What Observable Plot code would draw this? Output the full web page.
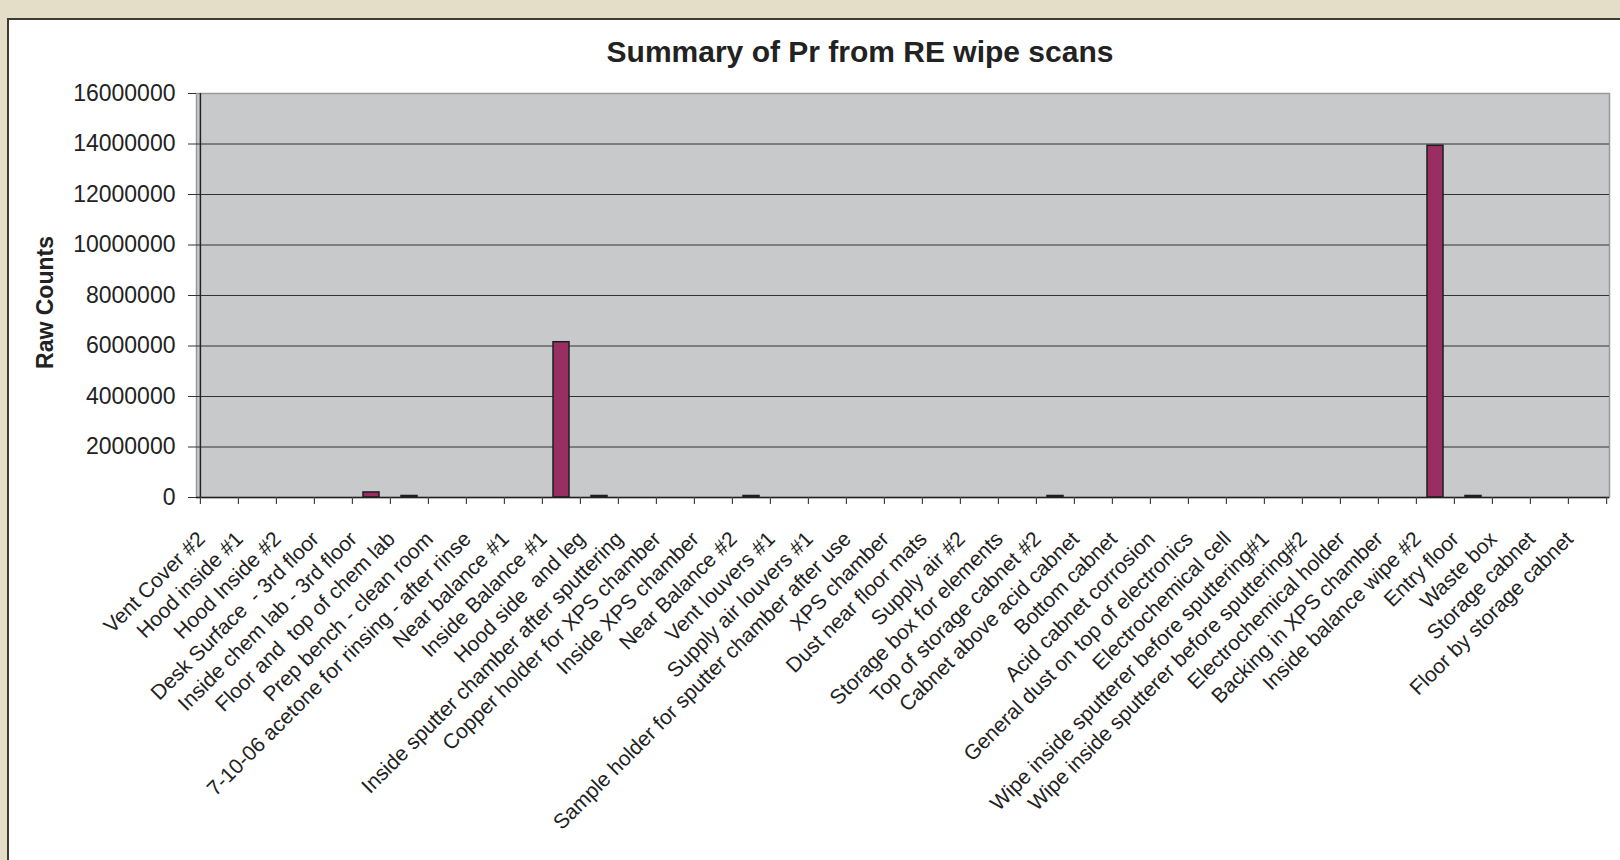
<!DOCTYPE html>
<html><head><meta charset="utf-8">
<script src="https://cdn.jsdelivr.net/npm/d3@7"></script>
<script src="https://cdn.jsdelivr.net/npm/@observablehq/plot@0.6"></script>
<style>
html,body{margin:0;padding:0;width:1620px;height:860px;overflow:hidden;background:#e4dec9;font-family:"Liberation Sans",Arial,sans-serif;}
#panel{position:absolute;left:7px;top:18px;right:0;bottom:0;background:#fff;border-left:2px solid #3f3b33;border-top:2px solid #3f3b33;}
#title{position:absolute;left:0;top:35px;width:1720px;text-align:center;font-weight:bold;font-size:30px;line-height:34px;color:#222;}
#chart{position:absolute;left:0;top:0;}
</style></head><body>
<div id="panel"></div>
<div id="title">Summary of Pr from RE wipe scans</div>
<div id="chart"></div>
<script>
const categories = [
  "Vent Cover #2","Hood inside #1","Hood Inside #2","Desk Surface  - 3rd floor","Inside chem lab - 3rd floor",
  "Floor and  top of chem lab","Prep bench - clean room","7-10-06 acetone for rinsing - after rinse","Near balance #1","Inside Balance #1",
  "Hood side  and leg","Inside sputter chamber after sputtering","Copper holder for XPS chamber","Inside XPS chamber","Near Balance #2",
  "Vent louvers #1","Supply air louvers #1","Sample holder for sputter chamber after use","XPS chamber","Dust near floor mats",
  "Supply air #2","Storage box for elements","Top of storage cabnet #2","Cabnet above acid cabnet","Bottom cabnet",
  "Acid cabnet corrosion","General dust on top of electronics","Electrochemical cell","Wipe inside sputterer before sputtering#1","Wipe inside sputterer before sputtering#2",
  "Electrochemical holder","Backing in XPS chamber","Inside balance wipe #2","Entry floor","Waste box",
  "Storage cabnet","Floor by storage cabnet"
];
const rawCounts = [
  0,0,0,0,200000,
  60000,0,0,0,6150000,
  60000,0,0,0,60000,
  0,0,0,0,0,
  0,0,60000,0,0,
  0,0,0,0,0,
  0,0,13930000,60000,0,
  0,0
];
const yTicks = [0,2000000,4000000,6000000,8000000,10000000,12000000,14000000,16000000];
const yTitle = "Raw Counts";

const W = 1620, H = 860, mL = 196, mR = 11, mT = 93, mB = 363;
const step = (W - mL - mR) / categories.length;
const data = categories.map((c, i) => ({category: c, value: rawCounts[i]}));

const chart = Plot.plot({
  width: W, height: H,
  marginLeft: mL, marginRight: mR, marginTop: mT, marginBottom: mB,
  style: {fontFamily: '"Liberation Sans", Arial, sans-serif', color: "#222", background: "transparent", overflow: "visible"},
  x: {domain: categories, paddingInner: 0.58, paddingOuter: 0.29, label: null},
  y: {domain: [0, 16000000], label: null},
  marks: [
    Plot.frame({fill: "#c8c9cb", stroke: "#9a9a9a", strokeWidth: 1.5}),
    Plot.gridY(yTicks.filter(t => t > 0 && t < 16000000), {stroke: "#333", strokeOpacity: 1, strokeWidth: 1}),
    Plot.barY(data, {x: "category", y: "value", fill: "#992e62", stroke: "#1e1e1e", strokeWidth: 1.5}),
    Plot.ruleY([0], {stroke: "#222", strokeWidth: 1.5}),
    Plot.ruleX([categories[0]], {dx: -step / 2, stroke: "#222", strokeWidth: 1.5}),
    Plot.ruleX(categories, {dx: -step / 2, y1: 0, y2: 0, insetBottom: -7, stroke: "#444", strokeWidth: 1.2}),
    Plot.ruleX([categories[categories.length - 1]], {dx: step / 2, y1: 0, y2: 0, insetBottom: -7, stroke: "#444", strokeWidth: 1.2}),
    Plot.axisY({ticks: yTicks, tickSize: 8, tickPadding: 13, tickFormat: d3.format("d"), fontSize: 23, label: null, stroke: "#333"}),
    Plot.axisX({tickSize: 0, tickPadding: 38, dx: -18, tickRotate: -45, fontSize: 21, label: null}),
    Plot.text([yTitle], {frameAnchor: "left", textAnchor: "middle", dx: -151, dy: 7, rotate: -90, fontWeight: "bold", fontSize: 23, fill: "#222"})
  ]
});
document.getElementById("chart").appendChild(chart);
</script>
</body></html>
